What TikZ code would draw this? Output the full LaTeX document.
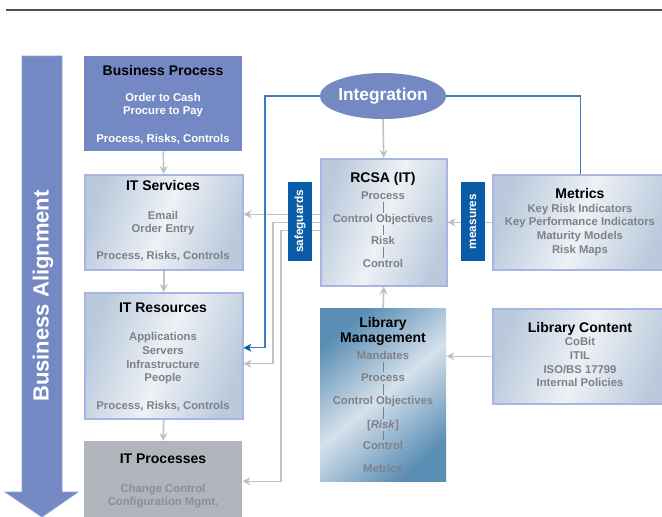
\documentclass[tikz,border=0pt]{standalone}
\usepackage{fontspec}
\setmainfont{Liberation Sans}
\usetikzlibrary{arrows.meta,shapes.geometric}

\definecolor{periwinkle}{HTML}{7489C3}
\definecolor{periedge}{HTML}{8C9ED3}
\definecolor{tagblue}{HTML}{0B5CA6}
\definecolor{linkblue}{HTML}{3A7CC0}
\definecolor{arrowgray}{HTML}{BEC1C6}
\definecolor{boxedge}{HTML}{A8B5E3}
\definecolor{shadeA}{HTML}{BACADC}
\definecolor{shadeB}{HTML}{EEF1F6}
\definecolor{libA}{HTML}{5B8EB5}
\definecolor{libB}{HTML}{D6E1EB}
\definecolor{txtgray}{HTML}{7E8187}
\definecolor{procfill}{HTML}{B1B4BA}
\definecolor{proctxt}{HTML}{8B8E94}
\definecolor{rulegray}{HTML}{505050}

\tikzset{
  lightbox/.style={draw=boxedge, line width=1.5pt, left color=shadeA, right color=shadeA,
    middle color=shadeB, shading angle=70, inner sep=0pt, anchor=north west},
  libbox/.style={draw=none, left color=libA, right color=libA, middle color=libB,
    shading angle=40, inner sep=0pt, anchor=north west},
  flatbox/.style={draw=none, inner sep=0pt, anchor=north west},
  ttl/.style={font=\fontsize{14}{16}\selectfont\bfseries, text=black, inner sep=0pt, anchor=base},
  bdy/.style={font=\fontsize{11.3}{13.5}\selectfont\bfseries, text=txtgray, inner sep=0pt, anchor=base},
  tip/.style={-{Stealth[length=8pt,width=8pt,inset=2.5pt]}},
  garrow/.style={draw=arrowgray, line width=1.6pt, tip},
  gline/.style={draw=arrowgray, line width=1.1pt, tip},
  blink/.style={draw=linkblue, line width=1.1pt},
  stackline/.style={draw=txtgray, line width=0.8pt},
  tag/.style={fill=tagblue, text=white, rotate=90, minimum width=79pt, minimum height=24pt,
    inner sep=0pt, font=\fontsize{11.8}{13}\selectfont\bfseries},
}

\begin{document}
\begin{tikzpicture}[x=1pt, y=-1pt]
\useasboundingbox (0,0) rectangle (662,517);

% header rule
\draw[rulegray, line width=2pt] (6,10) -- (662,10);

% business alignment arrow
\path[fill=periwinkle, draw=periedge, line width=0.8pt]
  (22,56) -- (62,56) -- (62,492) -- (78,492) -- (42,517) -- (5,492) -- (22,492) -- cycle;
\node[rotate=90, text=white, font=\fontsize{22}{24}\selectfont\bfseries, inner sep=0pt]
  (align) at (43,296) {Business Alignment};

% left column boxes
\node[flatbox, fill=periwinkle, minimum width=158pt, minimum height=95pt] (bp) at (84,56) {};
\node[lightbox, minimum width=158pt, minimum height=95pt] (its) at (84,174) {};
\node[lightbox, minimum width=158pt, minimum height=126pt] (itr) at (84,292) {};
\node[flatbox, fill=procfill, minimum width=158pt, minimum height=80pt] (itp) at (84,441) {};

% centre column
\node[ellipse, fill=periwinkle, minimum width=125pt, minimum height=46pt, inner sep=0pt,
  text=white, font=\fontsize{17.3}{19}\selectfont\bfseries] (integ) at (383,96) {Integration};
\node[lightbox, minimum width=126pt, minimum height=127pt] (rcsa) at (320,158) {};
\node[libbox, minimum width=126pt, minimum height=173pt] (lm) at (320,308) {};

% right column
\node[lightbox, minimum width=176pt, minimum height=95pt] (met) at (492,174) {};
\node[lightbox, minimum width=176pt, minimum height=95pt] (lc) at (492,308) {};

% texts: business process
\node[ttl] (bp-t) at (163,75) {Business Process};
\foreach \t/\y [count=\i] in {Order to Cash/97, Procure to Pay/110, {Process, Risks, Controls}/138}
  \node[bdy, text=white, name=bp-\i] at (163,\y+4) {\t};

% texts: IT services
\node[ttl] (its-t) at (163,190) {IT Services};
\foreach \t/\y [count=\i] in {Email/215, Order Entry/228, {Process, Risks, Controls}/255}
  \node[bdy, name=its-\i] at (163,\y+4) {\t};

% texts: IT resources
\node[ttl] (itr-t) at (163,312) {IT Resources};
\foreach \t/\y [count=\i] in {Applications/336, Servers/350, Infrastructure/364, People/377.5,
    {Process, Risks, Controls}/405}
  \node[bdy, name=itr-\i] at (163,\y+4) {\t};

% texts: IT processes
\node[ttl] (itp-t) at (163,463) {IT Processes};
\foreach \t/\y [count=\i] in {Change Control/488, Configuration Mgmt./501}
  \node[bdy, text=proctxt, name=itp-\i] at (163,\y+4) {\t};

% texts: RCSA
\node[ttl] (rcsa-t) at (383,182) {RCSA (IT)};
\foreach \t/\y [count=\i] in {Process/195, Control Objectives/218, Risk/240, Control/263}
  \node[bdy, name=rc-\i] at (383,\y+4) {\t};
\foreach \a/\b in {1/2, 2/3, 3/4}
  \draw[stackline] ([yshift=-3pt]rc-\a.base) -- ([yshift=9pt]rc-\b.base);

% texts: metrics
\node[ttl] (met-t) at (580,198) {Metrics};
\foreach \t/\y [count=\i] in {Key Risk Indicators/208, Key Performance Indicators/221,
    Maturity Models/235, Risk Maps/249}
  \node[bdy, name=met-\i] at (580,\y+4) {\t};

% texts: library management
\node[ttl] (lm-t1) at (383,327) {Library};
\node[ttl] (lm-t2) at (383,342) {Management};
\foreach \t/\y [count=\i] in {Mandates/355, Process/377, Control Objectives/400,
    {[\textit{Risk}]}/424, Control/445, Metrics/468}
  \node[bdy, name=lm-\i] at (383,\y+4) {\t};
\foreach \a/\b in {1/2, 2/3, 3/4, 4/5}
  \draw[stackline] ([yshift=-3pt]lm-\a.base) -- ([yshift=9pt]lm-\b.base);

% texts: library content
\node[ttl] (lc-t) at (580,332) {Library Content};
\node[bdy] (lc-1) at (580,345) {CoBit};
\node[bdy] (lc-2) at (580,359) {ITIL};
\node[bdy] (lc-3) at (580,373) {ISO/BS 17799};
\node[bdy] (lc-4) at (580,386) {Internal Policies};

% vertical flow
\draw[garrow] (bp.south) -- (its.north);
\draw[garrow] (its.south) -- (itr.north);
\draw[garrow] (itr.south) -- (itp.north);
\draw[garrow] (integ.south) -- (rcsa.north);
\draw[garrow] (lm.north) -- (rcsa.south);

% horizontal feeds
\draw[gline] (met.west) -- (rcsa.east);
\draw[gline] (lc.west) -- (lc.west -| lm.east);

% safeguard links from RCSA
\coordinate (gx1) at (273,0);
\coordinate (gx2) at (281,0);
\coordinate (bx) at (265,0);
\draw[gline] ([yshift=8pt]rcsa.west) -- ([yshift=8pt]its.east);
\draw[gline] (rcsa.west) -- (rcsa.west -| gx1) |- ([yshift=-8pt]itr.east);
\draw[gline] ([yshift=-8pt]rcsa.west) -- ([yshift=-8pt]rcsa.west -| gx2) |- (itp.east);

% integration links
\draw[blink, -{Stealth[length=8pt,width=8pt,inset=2.5pt,color=tagblue]}]
  (integ.west) -- (integ.west -| bx) |- ([yshift=8pt]itr.east);
\draw[blink] (integ.east) -| (met.north);

% tags
\node[tag] (safe) at (300,221.5) {safeguards};
\node[tag] (meas) at (473,221.5) {measures};
\end{tikzpicture}
\end{document}
